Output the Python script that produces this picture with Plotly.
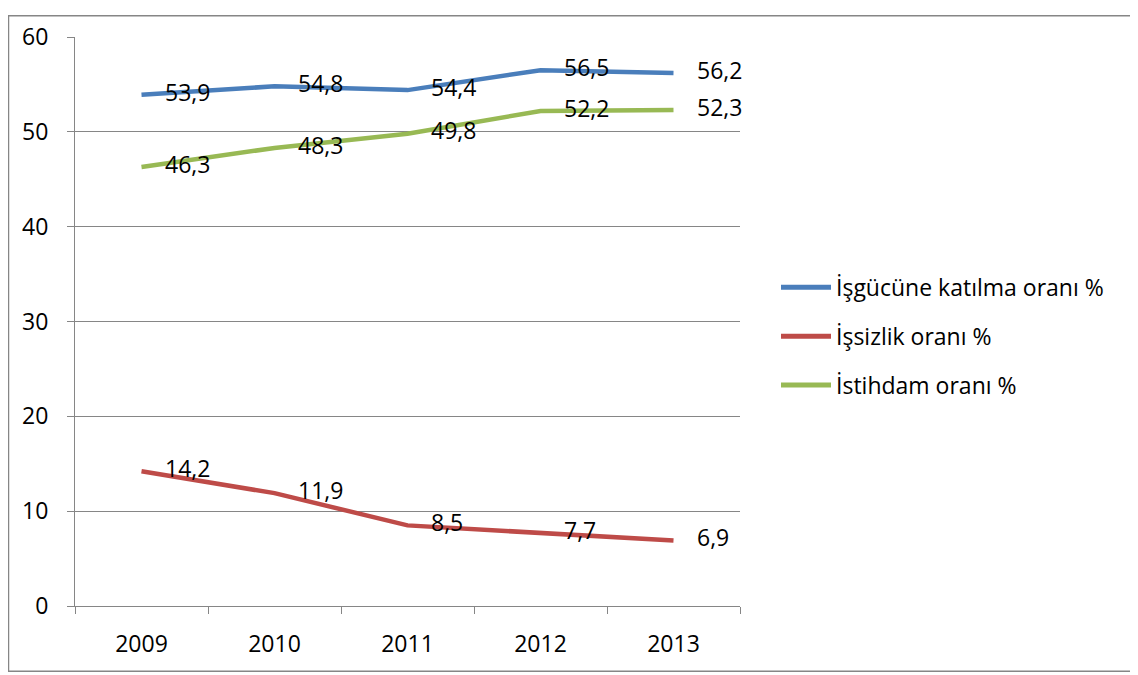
import plotly.graph_objects as go

years = ["2009", "2010", "2011", "2012", "2013"]
isgucu = [53.9, 54.8, 54.4, 56.5, 56.2]
issizlik = [14.2, 11.9, 8.5, 7.7, 6.9]
istihdam = [46.3, 48.3, 49.8, 52.2, 52.3]

series = [
    ("İşgücüne katılma oranı %", isgucu, "#4A7EBB"),
    ("İşsizlik oranı %", issizlik, "#BE4B48"),
    ("İstihdam oranı %", istihdam, "#98B954"),
]

FONT = "Open Sans"
FS = 23
fig = go.Figure()
for i, (name, vals, col) in enumerate(series):
    fig.add_trace(go.Scatter(
        x=years, y=vals, name=name, mode="lines+markers+text",
        text=[f"{v:.1f}".replace(".", ",") for v in vals],
        textposition="middle right",
        textfont=dict(family=FONT, size=FS, color="black"),
        marker=dict(size=36, color="rgba(0,0,0,0)", line=dict(width=0)),
        line=dict(color=col, width=4.5),
        legendgroup=f"g{i}",
        cliponaxis=False,
    ))

# page body offset of 8px
OFF = 8
L, R, T, B = 75 - OFF, 740 - OFF, 30 - OFF, 606 - OFF
W, H = 1138, 675
pw, ph = R - L, B - T
fig.add_shape(type="rect", xref="paper", yref="paper",
              x0=(0.5 - L) / pw, x1=(1123 - L) / pw,
              y0=(B - 664) / ph, y1=(B - 0.5) / ph,
              line=dict(color="#868686", width=1.5), layer="below")

fig.update_layout(
    width=W, height=H,
    margin=dict(l=L, r=W - R, t=T, b=H - B),
    paper_bgcolor="white", plot_bgcolor="white",
    font=dict(family=FONT, size=FS, color="black"),
    showlegend=True,
    legend=dict(x=(776 - OFF - L) / pw, y=(B - (333 - OFF)) / ph,
                xanchor="left", yanchor="middle",
                font=dict(family=FONT, size=FS), itemwidth=50, itemsizing="constant",
                tracegroupgap=16, bgcolor="rgba(0,0,0,0)"),
    xaxis=dict(type="category", tickson="boundaries", ticks="outside", ticklen=7,
               tickcolor="#868686", showline=True, linecolor="#868686", linewidth=1,
               showgrid=False, range=[-0.5, 4.5], ticklabelstandoff=17,
               tickfont=dict(family=FONT, size=FS)),
    yaxis=dict(range=[0, 60], dtick=10, ticks="outside", ticklen=7,
               tickcolor="#868686", showline=True, linecolor="#868686", linewidth=1,
               showgrid=True, gridcolor="#868686", gridwidth=1, zeroline=False,
               ticklabelstandoff=14, tickfont=dict(family=FONT, size=FS)),
)

fig.write_html("out.html")
